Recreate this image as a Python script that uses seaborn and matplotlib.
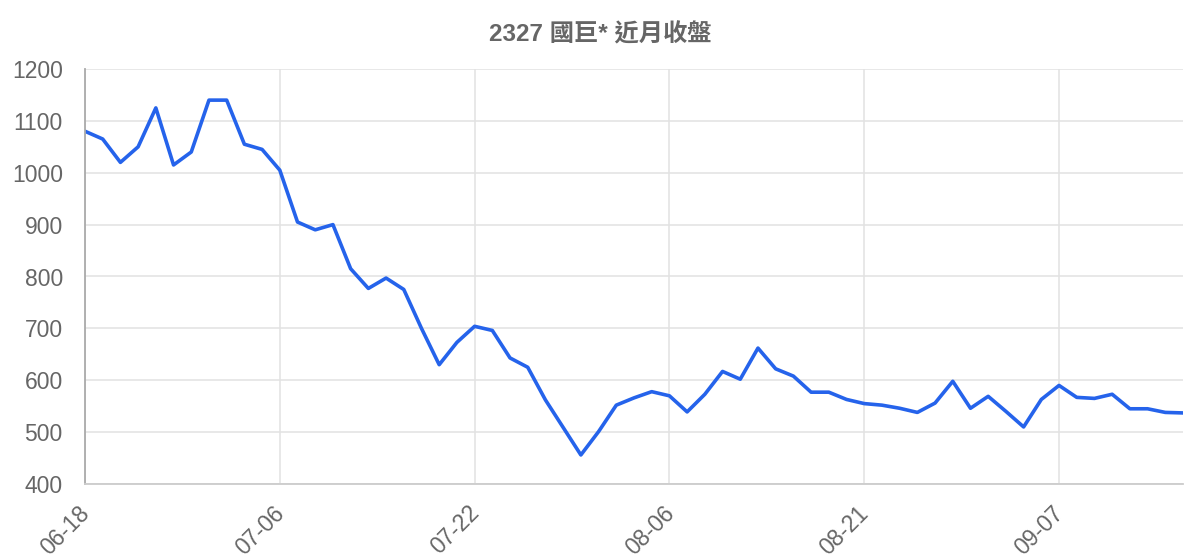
import pandas as pd
import numpy as np
import matplotlib
matplotlib.use('Agg')
import matplotlib.pyplot as plt
import matplotlib.transforms as mtransforms
import seaborn as sns

# Datos: fechas (mm-dd) y precio de cierre de 2327 國巨*
fechas = [
    '06-18', '06-21', '06-22', '06-23', '06-24', '06-25', '06-28', '06-29', '06-30', '07-01', '07-02',
    '07-06', '07-07', '07-08', '07-09', '07-12', '07-13', '07-14', '07-15', '07-16', '07-19', '07-20',
    '07-22', '07-23', '07-26', '07-27', '07-28', '07-29', '07-30', '08-02', '08-03', '08-04', '08-05',
    '08-06', '08-09', '08-10', '08-11', '08-12', '08-13', '08-16', '08-17', '08-18', '08-19', '08-20',
    '08-21', '08-23', '08-24', '08-25', '08-26', '08-27', '08-30', '08-31', '09-01', '09-02', '09-03',
    '09-07', '09-08', '09-09', '09-10', '09-13', '09-14', '09-15', '09-16',
]
cierre = [
    1080, 1065, 1020, 1050, 1125, 1015, 1040, 1140, 1140, 1055, 1045,
    1005, 905, 890, 900, 815, 777, 797, 775, 700, 630, 673,
    704, 696, 643, 625, 562, 509, 456, 501, 552, 566, 578,
    570, 539, 573, 617, 602, 662, 622, 608, 577, 577, 563,
    555, 552, 546, 538, 556, 598, 546, 569, 540, 510, 563,
    590, 567, 565, 573, 545, 545, 538, 537,
]
titulo = '2327 國巨* 近月收盤'
y_ticks = [400, 500, 600, 700, 800, 900, 1000, 1100, 1200]

df = pd.DataFrame({'Fecha': fechas, 'Cierre': cierre})
df['pos'] = np.arange(len(df))

sns.set_style('white')
plt.rcParams['font.family'] = ['Liberation Sans', 'Noto Sans CJK TC', 'DejaVu Sans']

fig = plt.figure(figsize=(12, 5.6), dpi=100)
ax = fig.add_axes([85 / 1200, 1 - 484 / 560, (1183 - 85) / 1200, (484 - 69) / 560])

sns.lineplot(data=df, x='pos', y='Cierre', ax=ax, color='#2563eb', linewidth=2.6)

ax.set_xlim(0, len(df) - 1)
ax.set_ylim(400, 1200)

# etiquetas cada 11 puntos
xt = list(range(0, len(df), 11))
ax.set_xticks(xt)
ax.set_xticklabels([fechas[i] for i in xt], rotation=45, ha='right', va='top',
                   rotation_mode='anchor')
ax.set_yticks(y_ticks)

ax.grid(True, color='#e2e2e2', linewidth=1.1)
ax.tick_params(axis='both', length=14, width=1.1, color='#e2e2e2',
               labelsize=16.5, labelcolor='#666666', pad=2)
ax.tick_params(axis='x', pad=0)

# desplazo un poco las etiquetas del eje x hacia la izquierda
desplaza = mtransforms.ScaledTranslation(-7 / 100, 2 / 100, fig.dpi_scale_trans)
for lbl in ax.get_xticklabels():
    lbl.set_transform(lbl.get_transform() + desplaza)

for s in ['top', 'right']:
    ax.spines[s].set_visible(False)
ax.spines['left'].set_color('#aaaaaa')
ax.spines['left'].set_linewidth(1.3)
ax.spines['bottom'].set_color('#cccccc')
ax.spines['bottom'].set_linewidth(1.3)

ax.set_xlabel('')
ax.set_ylabel('')
fig.text(600 / 1200, 1 - 35 / 560, titulo, ha='center', va='center',
         fontsize=17.5, fontweight='bold', color='#666666')

fig.savefig('out.png', dpi=100)
